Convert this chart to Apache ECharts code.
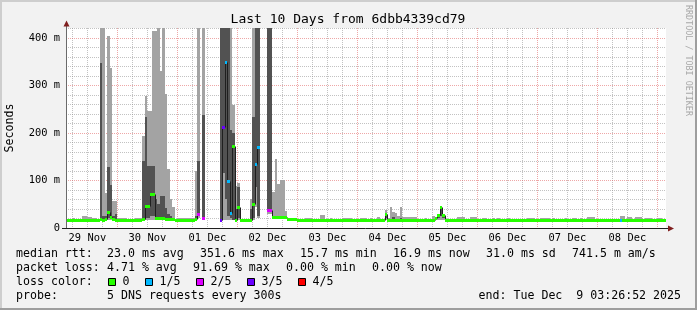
<!DOCTYPE html>
<html><head><meta charset="utf-8">
<script src="https://cdn.jsdelivr.net/npm/echarts@6/dist/echarts.min.js"></script>
<style>html,body{margin:0;padding:0;background:#f2f2f2}#c{width:697px;height:310px}</style>
</head><body><div id="c"></div>
<script>
// time axis in hours since 29 Nov 00:00; graph spans 10 days ending Tue Dec 9 03:26:52
const START_HOUR = 3 + 26/60 + 52/3600;
const END_HOUR = START_HOUR + 240;
const Y_MAX = 421;

const titleText = 'Last 10 Days from 6dbb4339cd79';
const dayLabels = ['29 Nov','30 Nov','01 Dec','02 Dec','03 Dec','04 Dec','05 Dec','06 Dec','07 Dec','08 Dec'];
const dayLabelHours = [12,36,60,84,108,132,156,180,204,228];
const yTickValues = [0,100,200,300,400];

const lossColors = ['#26ff00','#00b8ff','#dd00ff','#6a00ff','#ff0000'];
const lossLabels = ['0','1/5','2/5','3/5','4/5'];

// hourly RRA rows (runs of equal values), in ms:
// [fromHour, toHour, median, lossIndex, p1, p2, p4, p5]   (missing hours = no data)
const bins = [
 [3,6, 17,0,16,16.5,18,19],
 [6,7, 17,0,16,16.5,18,22],
 [7,10, 17,0,16,16.5,18,19],
 [10,12, 17,0,16,16.5,18.5,25],
 [12,14, 16.5,0,15.5,16,18,23],
 [14,16, 17,0,16,16.5,18,22],
 [16,17, 17,0,16,16.5,18,19],
 [17,18, 18,0,16,17,348,450],
 [18,19, 17,0,16,16.5,25,450],
 [19,20, 18,0,16,17,25,73],
 [20,21, 34,0,17,20,129,404],
 [21,22, 23,0,16,18,90,337],
 [22,23, 18,0,16,17,25,57],
 [23,24, 17,0,16,16.5,30,57],
 [24,28, 17,0,16,16.5,18,22],
 [28,31, 17,0,16,16.5,18,19],
 [31,34, 17,0,16,16.5,18,22],
 [34,35, 18,0,16,17,140,194],
 [35,36, 47,0,17,20,234,278],
 [36,37, 47,0,17,22,131,247],
 [37,38, 72,0,17,25,131,247],
 [38,39, 72,0,17,25,131,415],
 [39,40, 22,0,17,18,60,415],
 [40,41, 22,0,17,18,50,450],
 [41,42, 22,0,17,18,67,331],
 [42,43, 22,0,17,18,67,450],
 [43,44, 19,0,16,17,43,282],
 [44,45, 19,0,16,17,30,124],
 [45,46, 19,0,16,17,25,60],
 [46,47, 18,0,16,17,22,45],
 [47,48, 17,0,16,16.5,18,19],
 [48,55, 17,0,16,16.5,18,22],
 [55,56, 18,0,16,17,25,119],
 [56,57, 29,2,20,25,140,450],
 [58,59, 20,2,17,19,238,450],
 [65,66, 17,3,16,17,450,450],
 [66,67, 212,3,17,116,450,450],
 [67,68, 349,1,17,60,450,450],
 [68,69, 99,1,17,25,450,450],
 [69,70, 32,1,16,20,206,450],
 [70,71, 173,0,17,17,200,259],
 [71,72, 17,0,16,16.5,40,89],
 [72,73, 45,0,17,20,86,95],
 [73,77, 17,0,16,16.5,18,19],
 [77,78, 17,0,16,16.5,40,60],
 [78,79, 50,0,17,20,234,450],
 [79,80, 135,1,45,87,450,450],
 [80,81, 171,1,20,25,450,450],
 [84,86, 37,2,30,35,450,450],
 [86,87, 24,0,19,22,26,76],
 [87,88, 24,0,19,22,26,145],
 [88,89, 24,0,19,22,26,93],
 [89,90, 24,0,19,22,26,101],
 [90,91, 24,0,19,22,26,102],
 [91,92, 23,0,18,21,25,36],
 [92,94, 18,0,16,17,18.5,19.5],
 [94,96, 18,0,16,17,18.5,22],
 [96,99, 17,0,16,16.5,18,19],
 [99,102, 17,0,16,16.5,18,22],
 [102,105, 17,0,16,16.5,18,19],
 [105,107, 17,0,16,16.5,18,27],
 [107,109, 17,0,16,16.5,18,19],
 [109,110, 17,0,16,16.5,18,22],
 [110,114, 17,0,16,16.5,18,19],
 [114,118, 17,0,16,16.5,18,22],
 [118,121, 17,0,16,16.5,18,19],
 [121,124, 17,0,16,16.5,18,22],
 [124,125, 17,0,16,16.5,18,19],
 [125,126, 17,0,16,16.5,18,22],
 [126,128, 17,0,16,16.5,18,19],
 [128,129, 17,0,16,16.5,18,24],
 [129,131, 17,0,16,16.5,18,19],
 [131,132, 29,0,17,20,31,38],
 [132,133, 17,0,16,16.5,18,22],
 [133,134, 17,0,16,16.5,18,44],
 [134,135, 17,0,16,16.5,24,34],
 [135,136, 17,0,16,16.5,18,32],
 [136,137, 17,0,16,16.5,18,25],
 [137,138, 17,0,16,16.5,20,44],
 [138,142, 17,0,16,16.5,18,23],
 [142,144, 17,0,16,16.5,18,24],
 [144,147, 17,0,16,16.5,18,19],
 [147,148, 17,0,16,16.5,18,22],
 [148,150, 17,0,16,16.5,18,19],
 [150,151, 17,0,16,16.5,18,25],
 [151,152, 20,0,16,17,20,22],
 [152,153, 28,0,17,20,28.5,30],
 [153,154, 45,0,17,25,45.5,47],
 [154,155, 28,0,17,20,28.5,30],
 [155,160, 17,0,16,16.5,18,19],
 [160,163, 17,0,16,16.5,18,24],
 [163,165, 17,0,16,16.5,18,19],
 [165,168, 17,0,16,16.5,18,24],
 [168,170, 17,0,16,16.5,18,19],
 [170,172, 17,0,16,16.5,18,22],
 [172,174, 17,0,16,16.5,18,19],
 [174,175, 17,0,16,16.5,18,22],
 [175,176, 17,0,16,16.5,18,19],
 [176,177, 17,0,16,16.5,18,22],
 [177,180, 17,0,16,16.5,18,19],
 [180,181, 17,0,16,16.5,18,22],
 [181,188, 17,0,16,16.5,18,19],
 [188,191, 17,0,16,16.5,18,22],
 [191,193, 17,0,16,16.5,18,19],
 [193,197, 17,0,16,16.5,18,22],
 [197,198, 17,0,16,16.5,18,19],
 [198,199, 17,0,16,16.5,18,22],
 [199,203, 17,0,16,16.5,18,19],
 [203,204, 17,0,16,16.5,18,22],
 [204,206, 17,0,16,16.5,18,19],
 [206,208, 17,0,16,16.5,18,22],
 [208,209, 17,0,16,16.5,18,19],
 [209,210, 17,0,16,16.5,18,22],
 [210,212, 17,0,16,16.5,18,19],
 [212,215, 17,0,16,16.5,18,23],
 [215,225, 17,0,16,16.5,18,19],
 [225,226, 17,1,16,16.5,18,25],
 [226,227, 17,0,16,16.5,18,25],
 [227,228, 17,0,16,16.5,18,19],
 [228,230, 17,0,16,16.5,18,23],
 [230,231, 17,0,16,16.5,18,19],
 [231,234, 17,0,16,16.5,18,23],
 [234,235, 17,0,16,16.5,18,19],
 [235,238, 17,0,16,16.5,18,22],
 [238,240, 17,0,16,16.5,18,19],
 [240,242, 17,0,16,16.5,18,22],
 [242,244, 17,0,16,16.5,18,19]
];

const legendLine1 = [['median rtt:',16],['23.0 ms avg',107],['351.6 ms max',200],['15.7 ms min',300],['16.9 ms now',393],['31.0 ms sd',486],['741.5 m am/s',572]];
const legendLine2 = [['packet loss:',16],['4.71 % avg',107],['91.69 % max',193],['0.00 % min',286],['0.00 % now',372]];
const lossBoxX = [108.5,145.5,196.5,247.5,298.5];
const probeText = '5 DNS requests every 300s';
const endText = 'end: Tue Dec  9 03:26:52 2025';

const LIGHT = '#a3a3a3', DARK = '#525252';
const GRID = 'rgba(143,143,143,0.55)', MGRID = 'rgba(222,79,79,0.5)';
const MONO = '"DejaVu Sans Mono", monospace';

// median items with previous-run median (for the connecting vertical)
const medItems = bins.map((r, i) => {
  const prev = (i > 0 && bins[i-1][1] === r[0]) ? bins[i-1][2] : -1;
  return [r[0], r[1], r[2], r[3], prev];
});

const chart = echarts.init(document.getElementById('c'), null, {renderer:'canvas'});

function px(api, h) { return Math.round(api.coord([h, 0])[0]); }
function py(api, v) { return api.coord([START_HOUR, v])[1]; }

const texts = [];
function addText(str, x, y, size, opts) {
  texts.push(Object.assign({type:'text', x:x, y:y, silent:true, z:20,
    style:{text:str, fill:'#000', font: size + 'px ' + MONO, textAlign:'left', textVerticalAlign:'middle'}}, opts || {}));
}
legendLine1.forEach(t => addText(t[0], t[1], 254, 11.6));
legendLine2.forEach(t => addText(t[0], t[1], 268, 11.6));
addText('loss color:', 16, 282, 11.6);
lossBoxX.forEach((bx, i) => {
  texts.push({type:'rect', silent:true, z:20, shape:{x:bx, y:278.5, width:7, height:7},
    style:{fill:lossColors[i], stroke:'#000', lineWidth:1}});
  addText(lossLabels[i], bx + 14, 282, 11.6);
});
addText('probe:', 16, 296, 11.6);
addText(probeText, 107, 296, 11.6);
addText(endText, 681, 296, 11.6, {style:{text:endText, fill:'#000', font:'11.6px '+MONO, textAlign:'right', textVerticalAlign:'middle'}});

const graphics = [
  {type:'text', x:348, y:20, silent:true, z:20, style:{text:titleText, fill:'#000', font:'13px '+MONO, textAlign:'center', textVerticalAlign:'middle'}},
  {type:'text', x:10, y:128, rotation:Math.PI/2, silent:true, z:20, style:{text:'Seconds', fill:'#000', font:'11.6px '+MONO, textAlign:'center', textVerticalAlign:'middle'}},
  {type:'text', x:688, y:5, rotation:-Math.PI/2, silent:true, z:20, style:{text:'RRDTOOL / TOBI OETIKER', fill:'#a8a8a8', font:'8.4px '+MONO, textAlign:'left', textVerticalAlign:'middle'}},
  // axes lines and arrows
  {type:'line', silent:true, z:15, shape:{x1:66.5, y1:228, x2:66.5, y2:25}, style:{stroke:'#6a6a6a', lineWidth:1}},
  {type:'line', silent:true, z:15, shape:{x1:62, y1:228.5, x2:669, y2:228.5}, style:{stroke:'#1f1f1f', lineWidth:1}},
  {type:'polygon', silent:true, z:16, shape:{points:[[66.5,20.5],[63.5,26.5],[69.5,26.5]]}, style:{fill:'#801f1f'}},
  {type:'polygon', silent:true, z:16, shape:{points:[[674,228.5],[668,225.5],[668,231.5]]}, style:{fill:'#801f1f'}},
  // frame
  {type:'rect', silent:true, z:30, shape:{x:0,y:0,width:697,height:2}, style:{fill:'#cecece'}},
  {type:'rect', silent:true, z:30, shape:{x:0,y:0,width:2,height:310}, style:{fill:'#cecece'}},
  {type:'rect', silent:true, z:31, shape:{x:0,y:308,width:697,height:2}, style:{fill:'#9e9e9e'}},
  {type:'rect', silent:true, z:31, shape:{x:695,y:0,width:2,height:310}, style:{fill:'#9e9e9e'}}
].concat(texts);

chart.setOption({
  backgroundColor: '#f2f2f2',
  animation: false,
  grid: {left:66, top:28, width:600, height:200, show:true, backgroundColor:'#ffffff', borderWidth:0},
  xAxis: {
    type:'value', min:START_HOUR, max:END_HOUR,
    axisLine:{show:false}, axisTick:{show:false}, splitLine:{show:false},
    axisLabel:{
      customValues: dayLabelHours, margin:5, color:'#000', fontSize:10.4, fontFamily:MONO,
      formatter: v => { const i = dayLabelHours.indexOf(v); return i >= 0 ? dayLabels[i] : ''; }
    }
  },
  yAxis: {
    type:'value', min:0, max:Y_MAX, interval:100,
    axisLine:{show:false}, axisTick:{show:false}, splitLine:{show:false},
    axisLabel:{
      margin:6, color:'#000', fontSize:10.4, fontFamily:MONO,
      formatter: v => yTickValues.indexOf(v) < 0 ? '' : (v === 0 ? '0' : v + ' m')
    }
  },
  graphic: graphics,
  series: [
    { // grid lines
      type:'custom', z:1, silent:true, clip:false, data:[[START_HOUR + 1, 10]],
      renderItem(params, api) {
        const cs = params.coordSys;
        const top = cs.y, bot = cs.y + cs.height, left = cs.x, right = cs.x + cs.width;
        const minor = [], major = [];
        for (let h = 6; h < END_HOUR; h += 6) {
          if (h <= START_HOUR) continue;
          const x = px(api, h) + 0.5;
          (h % 24 === 0 ? major : minor).push({type:'line', shape:{x1:x, y1:top, x2:x, y2:bot},
            style:{stroke: h % 24 === 0 ? MGRID : GRID, lineWidth:1, lineDash:[1,1]}});
        }
        for (let v = 20; v <= 420; v += 20) {
          const y = Math.round(py(api, v)) + 0.5;
          (v % 100 === 0 ? major : minor).push({type:'line', shape:{x1:left, y1:y, x2:right, y2:y},
            style:{stroke: v % 100 === 0 ? MGRID : GRID, lineWidth:1, lineDash:[1,1]}});
        }
        return {type:'group', children: minor.concat(major)};
      }
    },
    { // smoke
      type:'custom', z:2, silent:true, clip:true, data: bins,
      renderItem(params, api) {
        const x0 = px(api, api.value(0)), x1 = px(api, api.value(1));
        const y1 = Math.round(py(api, api.value(4))), y2 = Math.round(py(api, api.value(5)));
        const y4 = Math.round(py(api, api.value(6))), y5 = Math.round(py(api, api.value(7)));
        return {type:'group', children:[
          {type:'rect', shape:{x:x0, y:y5, width:x1-x0, height:y1-y5}, style:{fill:LIGHT}},
          {type:'rect', shape:{x:x0, y:y4, width:x1-x0, height:y2-y4}, style:{fill:DARK}}
        ]};
      }
    },
    { // median line
      type:'custom', z:3, silent:true, clip:true, data: medItems,
      renderItem(params, api) {
        const x0 = px(api, api.value(0)), x1 = px(api, api.value(1));
        const ym = Math.round(py(api, api.value(2))) + 0.5;
        const ch = [{type:'line', shape:{x1:x0, y1:ym, x2:x1, y2:ym}, style:{stroke:'#1f1f1f', lineWidth:1}}];
        const p = api.value(4);
        if (p >= 0) {
          const yp = Math.round(py(api, p)) + 0.5;
          ch.push({type:'line', shape:{x1:x0+0.5, y1:yp, x2:x0+0.5, y2:ym}, style:{stroke:'#1f1f1f', lineWidth:1}});
        }
        return {type:'group', children: ch};
      }
    },
    { // loss-coloured median band
      type:'custom', z:4, silent:true, clip:true, data: medItems,
      renderItem(params, api) {
        const x0 = px(api, api.value(0)), x1 = px(api, api.value(1));
        const ym = Math.round(py(api, api.value(2)));
        return {type:'rect', shape:{x:x0, y:ym-1, width:x1-x0, height:3}, style:{fill: lossColors[api.value(3)]}};
      }
    }
  ]
});
</script>
</body></html>
